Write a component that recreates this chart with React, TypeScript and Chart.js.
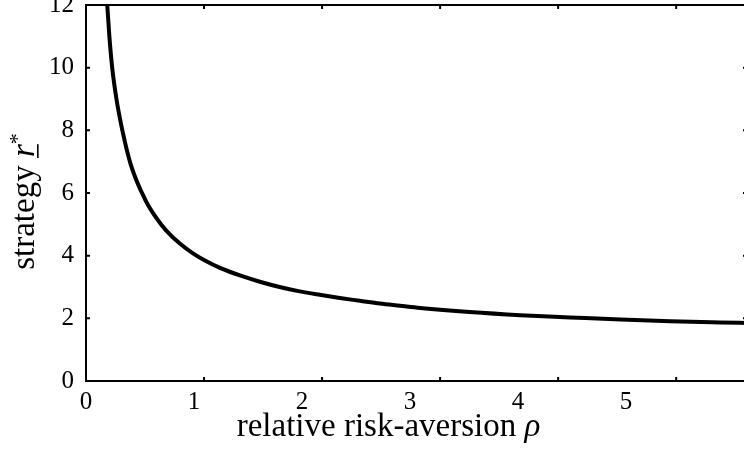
import React, { useEffect, useRef } from 'react';
import { Chart, registerables } from 'chart.js';

Chart.register(...registerables);

// ---- data ----
const rho = [0.18, 0.198, 0.222, 0.258, 0.308, 0.38, 0.5, 0.6, 0.68, 0.8, 0.9, 1.0, 1.14, 1.31, 1.48, 1.64, 1.81, 1.98, 2.15, 2.32, 2.49, 2.66, 2.83, 3.25, 3.68, 4.1, 4.53, 4.95, 5.37, 5.6];
const strategy = [12.0, 11.0, 10.0, 9.0, 8.0, 6.9, 5.8, 5.18, 4.8, 4.37, 4.09, 3.86, 3.6, 3.36, 3.16, 3.0, 2.86, 2.75, 2.65, 2.56, 2.47, 2.4, 2.33, 2.2, 2.1, 2.03, 1.96, 1.91, 1.87, 1.85];

const xTickValues = [0, 1, 2, 3, 4, 5];
const xTickLabels = ['0', '1', '2', '3', '4', '5'];
const yTickValues = [0, 2, 4, 6, 8, 10, 12];
const yTickLabels = ['0', '2', '4', '6', '8', '10', '12'];

const xTitleText = 'relative risk-aversion ';
const xTitleSymbol = 'ρ';
const yTitleText = 'strategy ';
const yTitleSymbol = 'r';
const yTitleSup = '*';

const SERIF = '"Liberation Serif", "Times New Roman", serif';

const framePlugin = {
  id: 'frameAndTitles',
  afterDraw(chart: any) {
    const { ctx, chartArea: a, scales } = chart;
    const xs = scales.x;
    const ys = scales.y;
    ctx.save();
    ctx.strokeStyle = '#000';
    ctx.lineWidth = 2;
    ctx.beginPath();
    ctx.rect(a.left, a.top, a.right - a.left, a.bottom - a.top);
    ctx.stroke();
    const L = 4;
    ctx.beginPath();
    for (const v of xTickValues) {
      const px = xs.getPixelForValue(v);
      ctx.moveTo(px, a.bottom);
      ctx.lineTo(px, a.bottom - L);
      ctx.moveTo(px, a.top);
      ctx.lineTo(px, a.top + L);
    }
    for (const v of yTickValues) {
      const py = ys.getPixelForValue(v);
      ctx.moveTo(a.left, py);
      ctx.lineTo(a.left + L, py);
      ctx.moveTo(a.right, py);
      ctx.lineTo(a.right - L, py);
    }
    ctx.stroke();

    // x title
    ctx.fillStyle = '#000';
    ctx.textBaseline = 'alphabetic';
    ctx.textAlign = 'left';
    const fNorm = `33px ${SERIF}`;
    const fItal = `italic 33px ${SERIF}`;
    ctx.font = fNorm;
    const w1 = ctx.measureText(xTitleText).width;
    ctx.font = fItal;
    const w2 = ctx.measureText(xTitleSymbol).width;
    const cxMid = a.left + 302.5;
    const sx = cxMid - (w1 + w2) / 2;
    const by = a.bottom + 55;
    ctx.font = fNorm;
    ctx.fillText(xTitleText, sx, by);
    ctx.font = fItal;
    ctx.fillText(xTitleSymbol, sx + w1, by);

    // y title (rotated)
    ctx.save();
    ctx.translate(a.left - 52, a.top + 196.5);
    ctx.rotate(-Math.PI / 2);
    ctx.font = fNorm;
    const t1 = ctx.measureText(yTitleText).width;
    ctx.font = fItal;
    const t2 = ctx.measureText(yTitleSymbol).width;
    const fSup = `22px ${SERIF}`;
    ctx.font = fSup;
    const t3 = ctx.measureText(yTitleSup).width;
    let px = -(t1 + t2 + t3) / 2;
    ctx.font = fNorm;
    ctx.fillText(yTitleText, px, 0);
    px += t1;
    ctx.font = fItal;
    ctx.fillText(yTitleSymbol, px, 0);
    ctx.fillRect(px - 1, 3, t2 + 1, 1.6);
    px += t2;
    ctx.font = fSup;
    ctx.fillText(yTitleSup, px, -10);
    ctx.restore();

    ctx.restore();
  },
};

export default function App() {
  const ref = useRef<HTMLCanvasElement | null>(null);

  useEffect(() => {
    document.body.style.overflow = 'hidden';
    document.documentElement.style.overflow = 'hidden';
    if (!ref.current) return;
    const chart = new Chart(ref.current, {
      type: 'line',
      data: {
        datasets: [
          {
            data: rho.map((x, i) => ({ x, y: strategy[i] })),
            xAxisID: 'x',
            yAxisID: 'y',
            borderColor: '#000',
            borderWidth: 4,
            pointRadius: 0,
            cubicInterpolationMode: 'monotone',
            fill: false,
          },
        ],
      },
      options: {
        animation: false,
        responsive: true,
        maintainAspectRatio: false,
        events: [],
        layout: { padding: { top: 45, right: 53, left: 0, bottom: 0 } },
        plugins: { legend: { display: false }, tooltip: { enabled: false } },
        scales: {
          x: {
            type: 'linear',
            display: false,
            min: 0,
            max: 5.6,
          },
          xl: {
            type: 'linear',
            position: 'bottom',
            min: 0,
            max: 6.12,
            afterBuildTicks: (s: any) => {
              s.ticks = xTickValues.map((v) => ({ value: v }));
            },
            afterFit: (s: any) => {
              s.height = 99;
            },
            grid: { display: false, drawTicks: false },
            border: { display: false },
            ticks: {
              color: '#000',
              padding: 6,
              maxRotation: 0,
              autoSkip: false,
              font: { family: SERIF, size: 25 },
              callback: (v: any) => {
                const i = xTickValues.indexOf(Number(v));
                return i >= 0 ? xTickLabels[i] : '';
              },
            },
          },
          y: {
            type: 'linear',
            position: 'left',
            min: 0,
            max: 12,
            afterBuildTicks: (s: any) => {
              s.ticks = yTickValues.map((v) => ({ value: v }));
            },
            afterFit: (s: any) => {
              s.width = 86;
            },
            grid: { display: false, drawTicks: false },
            border: { display: false },
            ticks: {
              color: '#000',
              padding: 12,
              autoSkip: false,
              font: { family: SERIF, size: 25 },
              callback: (v: any) => {
                const i = yTickValues.indexOf(Number(v));
                return i >= 0 ? yTickLabels[i] : '';
              },
            },
          },
        },
      },
      plugins: [framePlugin],
    } as any);
    return () => chart.destroy();
  }, []);

  return (
    <div
      style={{
        position: 'fixed',
        left: 0,
        top: -40,
        width: 800,
        height: 520,
        background: '#fff',
      }}
    >
      <canvas ref={ref} />
    </div>
  );
}
